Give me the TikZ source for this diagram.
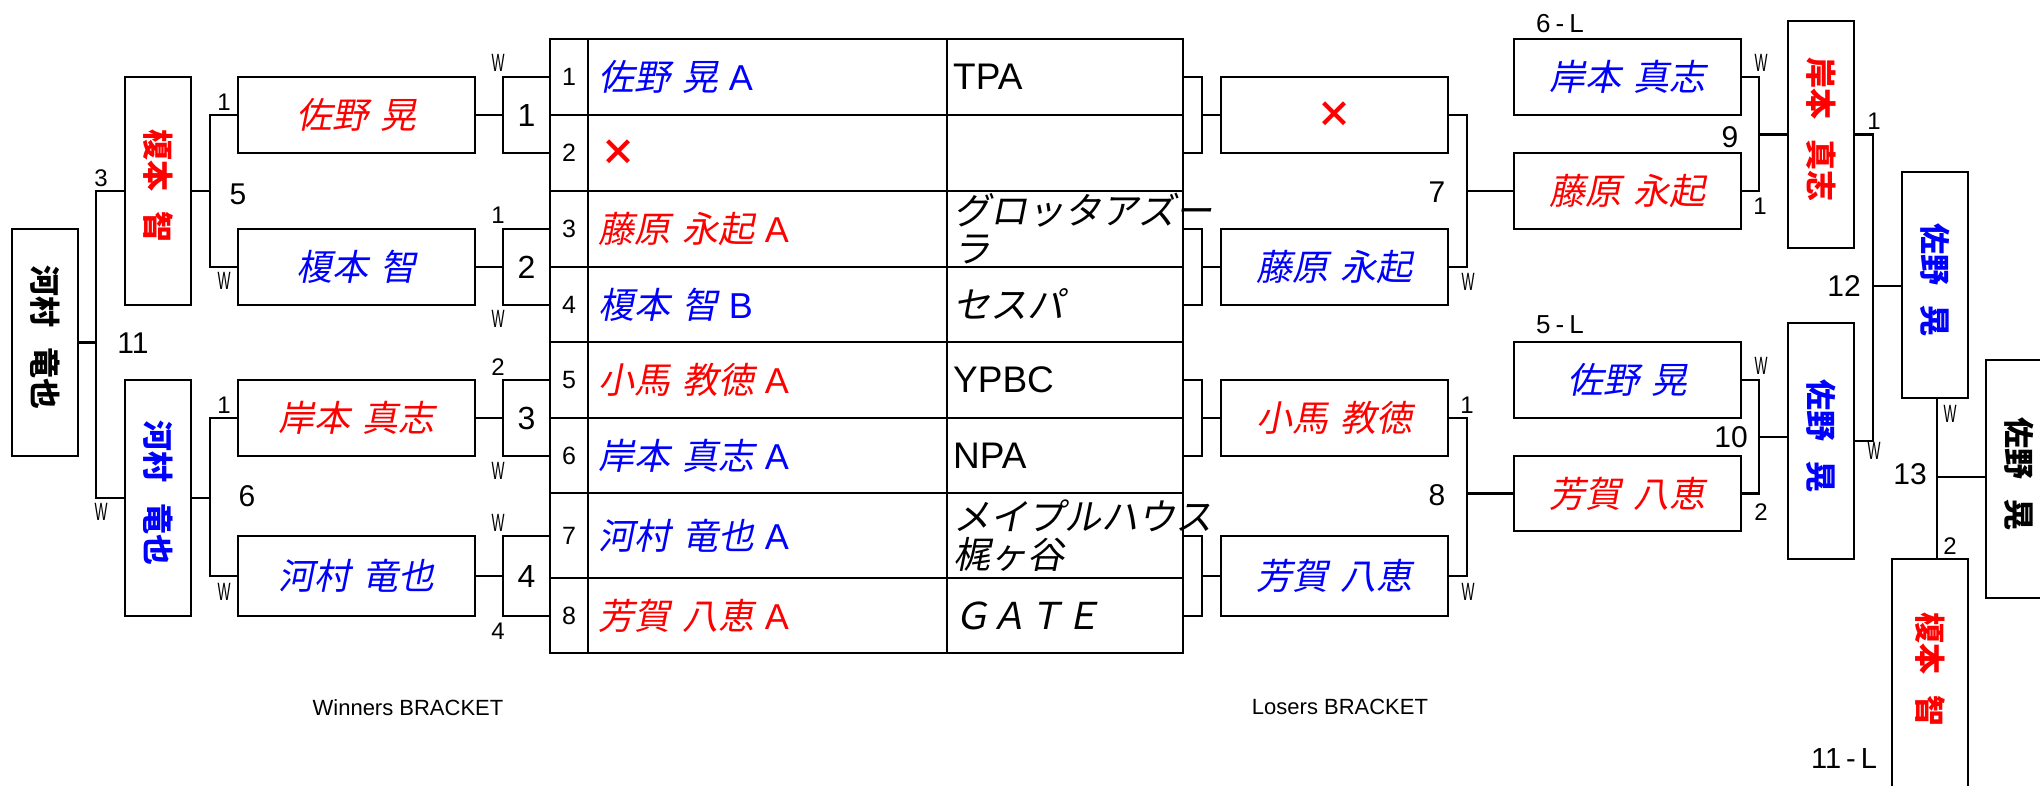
\documentclass[tikz,border=0pt]{standalone}
\usepackage{fontspec}
\usepackage{graphicx}
\setmainfont{Liberation Sans}
\newfontfamily\jp[FakeSlant=0.2]{Noto Sans CJK JP}
\newfontfamily\jpb{Noto Sans CJK JP}
\newfontfamily\narw[FakeStretch=0.55]{Liberation Sans}
\definecolor{rd}{RGB}{255,0,0}
\definecolor{bl}{RGB}{0,0,255}
\newcommand\jsp{\hspace{0.35em}}
\newcommand\vsp{\hspace{0.65em}}
\newcommand\vname[1]{\rotatebox{-90}{#1\hspace{10pt}}}
\tikzset{
  ln/.style={line width=2.8pt},
  box/.style={draw, line width=2.8pt, inner sep=0pt, outer sep=0pt},
  nmf/.style={font=\fontsize{36}{38}\selectfont\jp},
  vtf/.style={font=\fontsize{31}{33}\selectfont\jpb\bfseries},
  numf/.style={font=\fontsize{32}{34}\selectfont},
  seedf/.style={font=\fontsize{25}{27}\selectfont},
  bigf/.style={font=\fontsize{30}{32}\selectfont, inner sep=0pt},
  smf/.style={font=\fontsize{24}{26}\selectfont, inner sep=0pt},
  wlab/.style={font=\fontsize{25}{26}\selectfont\narw, inner sep=0pt},
  llab/.style={font=\fontsize{26}{28}\selectfont, inner sep=0pt},
  ttl/.style={font=\fontsize{22}{24}\selectfont, inner sep=0pt},
  tn/.style={anchor=west, inner sep=0pt, font=\fontsize{36}{38}\selectfont},
  tt/.style={anchor=west, inner sep=0pt, align=left, font=\fontsize{37}{38}\selectfont},
}
\begin{document}
\begin{tikzpicture}[x=1pt,y=-1pt]
\useasboundingbox (0,0) rectangle (2040,785);
\fill[white] (0,0) rectangle (2040,785);
\clip (0,0) rectangle (2040,785);

% ---------- Winners bracket ----------
\node[box,vtf,minimum width=66,minimum height=227] (wfin) at (45,342.5) {\vname{河村\vsp 竜也}};
\node[box,vtf,text=rd,minimum width=66,minimum height=228] (ws1) at (158,191) {\vname{榎本\vsp 智}};
\node[box,vtf,text=bl,minimum width=66,minimum height=236] (ws2) at (158,498) {\vname{河村\vsp 竜也}};
\node[box,nmf,text=rd,minimum width=237,minimum height=76] (wr1) at (356.5,115) {佐野\jsp 晃};
\node[box,nmf,text=bl,minimum width=237,minimum height=76] (wr2) at (356.5,267) {榎本\jsp 智};
\node[box,nmf,text=rd,minimum width=237,minimum height=76] (wr3) at (356.5,418) {岸本\jsp 真志};
\node[box,nmf,text=bl,minimum width=237,minimum height=80] (wr4) at (356.5,576) {河村\jsp 竜也};
\node[box,numf,minimum width=47,minimum height=76] (m1) at (526.5,115) {1};
\node[box,numf,minimum width=47,minimum height=76] (m2) at (526.5,267) {2};
\node[box,numf,minimum width=47,minimum height=76] (m3) at (526.5,418) {3};
\node[box,numf,minimum width=47,minimum height=80] (m4) at (526.5,576) {4};

\coordinate (wv1) at (210,191);
\coordinate (wv2) at (210,498);
\coordinate (wv3) at (96,342.5);
\draw[ln] (wr1.east) -- (m1.west);
\draw[ln] (wr2.east) -- (m2.west);
\draw[ln] (wr3.east) -- (m3.west);
\draw[ln] (wr4.east) -- (m4.west);
\draw[ln] (wr1.west) -| (wv1) |- (wr2.west);
\draw[ln] (ws1.east) -- (wv1);
\draw[ln] (wr3.west) -| (wv2) |- (wr4.west);
\draw[ln] (ws2.east) -- (wv2);
\draw[ln] (ws1.west) -| (wv3) |- (ws2.west);
\draw[ln] (wfin.east) -- (wv3);

% ---------- Table ----------
\foreach \i/\c/\h in {1/77/76,2/153/76,3/229/76,4/304.5/75,5/380/76,6/455.5/75,7/535.5/85,8/615.5/75}{
  \node[box,seedf,minimum width=38,minimum height=\h] (s\i) at (569,\c) {\i};
  \node[box,minimum width=359,minimum height=\h] (n\i) at (767.5,\c) {};
  \node[box,minimum width=236,minimum height=\h] (t\i) at (1065,\c) {};
}
\node[tn,text=bl] (nt1) at ([xshift=10]n1.west) {{\jp 佐野\jsp 晃} A};
\node[tn,text=rd] (nt2) at ([xshift=12]n2.west) {{\jpb\bfseries ×}};
\node[tn,text=rd] (nt3) at ([xshift=10]n3.west) {{\jp 藤原\jsp 永起} A};
\node[tn,text=bl] (nt4) at ([xshift=10]n4.west) {{\jp 榎本\jsp 智} B};
\node[tn,text=rd] (nt5) at ([xshift=10]n5.west) {{\jp 小馬\jsp 教徳} A};
\node[tn,text=bl] (nt6) at ([xshift=10]n6.west) {{\jp 岸本\jsp 真志} A};
\node[tn,text=bl] (nt7) at ([xshift=10]n7.west) {{\jp 河村\jsp 竜也} A};
\node[tn,text=rd] (nt8) at ([xshift=10]n8.west) {{\jp 芳賀\jsp 八恵} A};

\node[tt] (tt1) at ([xshift=6]t1.west) {TPA};
\node[tt] (tt3) at ([xshift=6]t3.west) {{\jp グロッタアズー}\\{\jp ラ}};
\node[tt] (tt4) at ([xshift=6]t4.west) {{\jp セスパ}};
\node[tt] (tt5) at ([xshift=6]t5.west) {YPBC};
\node[tt] (tt6) at ([xshift=6]t6.west) {NPA};
\node[tt] (tt7) at ([xshift=6]t7.west) {{\jp メイプルハウス}\\{\jp 梶ヶ谷}};
\node[tt] (tt8) at ([xshift=6]t8.west) {{\jp ＧＡＴＥ}};

% ---------- Losers bracket ----------
\node[box,minimum width=19,minimum height=76] (q1) at (1192.5,115) {};
\node[box,minimum width=19,minimum height=76] (q2) at (1192.5,267) {};
\node[box,minimum width=19,minimum height=76] (q3) at (1192.5,418) {};
\node[box,minimum width=19,minimum height=80] (q4) at (1192.5,576) {};
\node[box,nmf,text=rd,minimum width=227,minimum height=76] (l1a) at (1334.5,115) {{\jpb\bfseries ×}};
\node[box,nmf,text=bl,minimum width=227,minimum height=76] (l1b) at (1334.5,267) {藤原\jsp 永起};
\node[box,nmf,text=rd,minimum width=227,minimum height=76] (l1c) at (1334.5,418) {小馬\jsp 教徳};
\node[box,nmf,text=bl,minimum width=227,minimum height=80] (l1d) at (1334.5,576) {芳賀\jsp 八恵};
\node[box,nmf,text=bl,minimum width=227,minimum height=76] (l2a) at (1627.5,77) {岸本\jsp 真志};
\node[box,nmf,text=rd,minimum width=227,minimum height=76] (l2b) at (1627.5,191) {藤原\jsp 永起};
\node[box,nmf,text=bl,minimum width=227,minimum height=76] (l2c) at (1627.5,380) {佐野\jsp 晃};
\node[box,nmf,text=rd,minimum width=227,minimum height=75] (l2d) at (1627.5,493.5) {芳賀\jsp 八恵};
\node[box,vtf,text=rd,minimum width=66,minimum height=227] (l3a) at (1821,134.5) {\vname{岸本\vsp 真志}};
\node[box,vtf,text=bl,minimum width=66,minimum height=236] (l3b) at (1821,441) {\vname{佐野\vsp 晃}};
\node[box,vtf,text=bl,minimum width=66,minimum height=226] (l4) at (1935,285) {\vname{佐野\vsp 晃}};
\node[box,vtf,text=rd,minimum width=76,minimum height=231] (gf2) at (1930,674.5) {\vname{榎本\vsp 智}};
\node[box,vtf,minimum width=66,minimum height=238] (fin) at (2019,479) {\vname{佐野\vsp 晃}};

\coordinate (lv1) at (1467,191);
\coordinate (lv2) at (1467,493.5);
\coordinate (lv3) at (1759,134.5);
\coordinate (lv4) at (1759,437);
\coordinate (lv5) at (1873,286);
\coordinate (gv) at (1937,477);
\draw[ln] (q1.east) -- (l1a.west);
\draw[ln] (q2.east) -- (l1b.west);
\draw[ln] (q3.east) -- (l1c.west);
\draw[ln] (q4.east) -- (l1d.west);
\draw[ln] (l1a.east) -| (lv1) |- (l1b.east);
\draw[ln] (lv1) -- (lv1 -| l2b.west);
\draw[ln] (l1c.east) -| (lv2) |- (l1d.east);
\draw[ln] (lv2) -- (lv2 -| l2d.west);
\draw[ln] (l2a.east) -| (lv3) |- (l2b.east);
\draw[ln] (lv3) -- (lv3 -| l3a.west);
\draw[ln] (l2c.east) -| (lv4) |- (l2d.east);
\draw[ln] (lv4) -- (lv4 -| l3b.west);
\draw[ln] (l3a.east) -| (lv5) |- (l3b.east);
\draw[ln] (lv5) -- (lv5 -| l4.west);
\draw[ln] (l4.south -| gv) -- (gf2.north -| gv);
\draw[ln] (gv) -- (gv -| fin.west);

% ---------- labels ----------
\node[smf] (a1) at (101,178) {3};
\node[smf] (a2) at (224,102) {1};
\node[smf] (a3) at (224,405) {1};
\node[smf] (a4) at (498,215) {1};
\node[smf] (a5) at (498,367) {2};
\node[smf] (a6) at (498,631) {4};
\node[smf] (a7) at (1467,405) {1};
\node[smf] (a8) at (1760,206) {1};
\node[smf] (a9) at (1874,121) {1};
\node[smf] (a10) at (1761,512) {2};
\node[smf] (a11) at (1950,546) {2};

\node[wlab] (w1) at (101,512) {W};
\node[wlab] (w2) at (224,281) {W};
\node[wlab] (w3) at (224,592) {W};
\node[wlab] (w4) at (498,63) {W};
\node[wlab] (w5) at (498,319) {W};
\node[wlab] (w6) at (498,471) {W};
\node[wlab] (w7) at (498,523) {W};
\node[wlab] (w8) at (1468,282) {W};
\node[wlab] (w9) at (1468,592) {W};
\node[wlab] (w10) at (1761,63) {W};
\node[wlab] (w11) at (1761,366) {W};
\node[wlab] (w12) at (1874,451) {W};
\node[wlab] (w13) at (1950,414) {W};

\node[bigf] (b1) at (133,343) {11};
\node[bigf] (b2) at (238,194) {5};
\node[bigf] (b3) at (247,496) {6};
\node[bigf] (b4) at (1437,192) {7};
\node[bigf] (b5) at (1437,495) {8};
\node[bigf] (b6) at (1730,137) {9};
\node[bigf] (b7) at (1731,437) {10};
\node[bigf] (b8) at (1844,286) {12};
\node[bigf] (b9) at (1910,474) {13};

\node[llab] (c1) at (1560,24) {6\kern5pt-\kern5pt L};
\node[llab] (c2) at (1560,325) {5\kern5pt-\kern5pt L};
\node[llab,font=\fontsize{29}{31}\selectfont] (c3) at (1844,759) {11\kern5pt-\kern5pt L};

\node[ttl] (wtitle) at (408,708) {Winners BRACKET};
\node[ttl] (ltitle) at (1340,707) {Losers BRACKET};
\end{tikzpicture}
\end{document}
